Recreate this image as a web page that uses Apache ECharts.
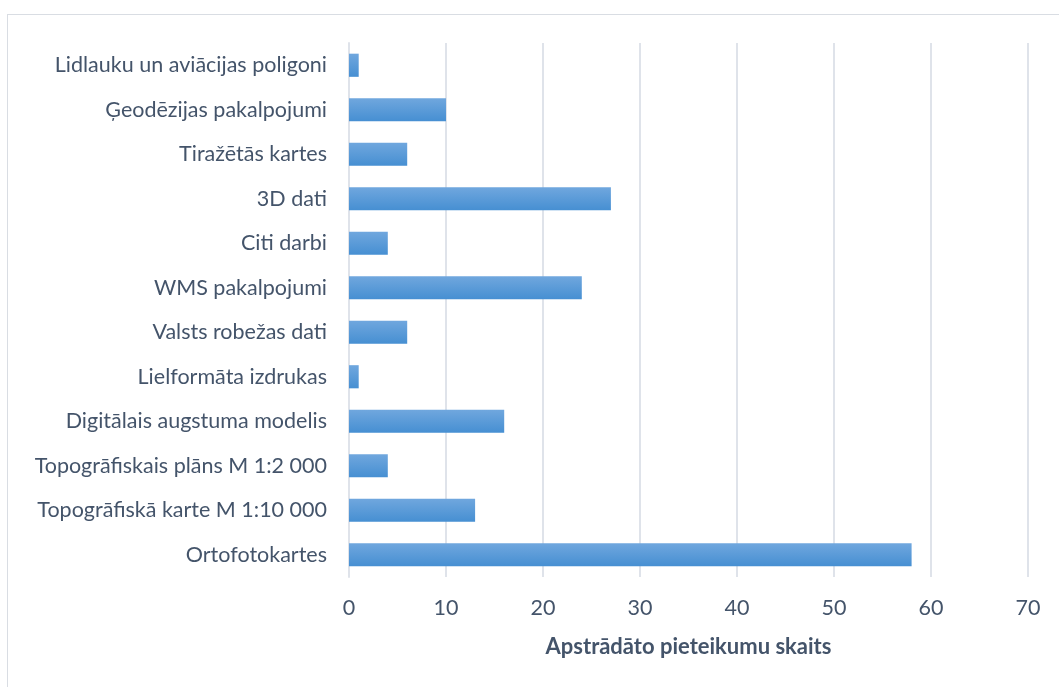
<!DOCTYPE html>
<html>
<head>
<meta charset="utf-8">
<script src="https://cdn.jsdelivr.net/npm/echarts@6/dist/echarts.min.js"></script>
<style>
  html, body { margin: 0; padding: 0; background: #fff; }
  #frame { position: absolute; left: 7px; top: 14px; width: 1060px; height: 680px; border: 1px solid #d9dde3; box-sizing: border-box; }
  #main { position: absolute; left: 0; top: 0; width: 1059px; height: 687px; }
</style>
</head>
<body>
<div id="frame"></div>
<div id="main"></div>
<script>
// kategorijas no apakšas uz augšu
var categories = [
  'Ortofotokartes',
  'Topogrāfiskā karte M 1:10 000',
  'Topogrāfiskais plāns M 1:2 000',
  'Digitālais augstuma modelis',
  'Lielformāta izdrukas',
  'Valsts robežas dati',
  'WMS pakalpojumi',
  'Citi darbi',
  '3D dati',
  'Tiražētās kartes',
  'Ģeodēzijas pakalpojumi',
  'Lidlauku un aviācijas poligoni'
];
var values = [58, 13, 4, 16, 1, 6, 24, 4, 27, 6, 10, 1];
var xTicks = { min: 0, max: 70, interval: 10 };
var axisTitle = 'Apstrādāto pieteikumu skaits';

var myChart = echarts.init(document.getElementById('main'));
var textColor = '#44546a';
var option = {
  animation: false,
  grid: { left: 349, right: 31, top: 43, bottom: 110, containLabel: false },
  xAxis: {
    type: 'value',
    min: xTicks.min,
    max: xTicks.max,
    interval: xTicks.interval,
    name: axisTitle,
    nameLocation: 'middle',
    nameGap: 59,
    nameTextStyle: { color: textColor, fontSize: 22, fontWeight: 'bold', fontFamily: 'Lato' },
    axisLine: { show: false },
    axisTick: { show: false },
    axisLabel: { color: textColor, fontSize: 21.5, fontFamily: 'Lato', margin: 20 },
    splitLine: { show: true, lineStyle: { color: '#dfe3ea', width: 2 } }
  },
  yAxis: {
    type: 'category',
    data: categories,
    axisLine: { show: true, lineStyle: { color: '#dfe3ea', width: 2 } },
    axisTick: { show: false },
    axisLabel: { color: textColor, fontSize: 21.5, fontFamily: 'Lato', margin: 22 }
  },
  series: [{
    type: 'bar',
    data: values,
    barCategoryGap: '48%',
    itemStyle: {
      color: new echarts.graphic.LinearGradient(0, 0, 0, 1, [
        { offset: 0, color: '#70a7de' },
        { offset: 1, color: '#468fd2' }
      ])
    }
  }]
};
myChart.setOption(option);
</script>
</body>
</html>
